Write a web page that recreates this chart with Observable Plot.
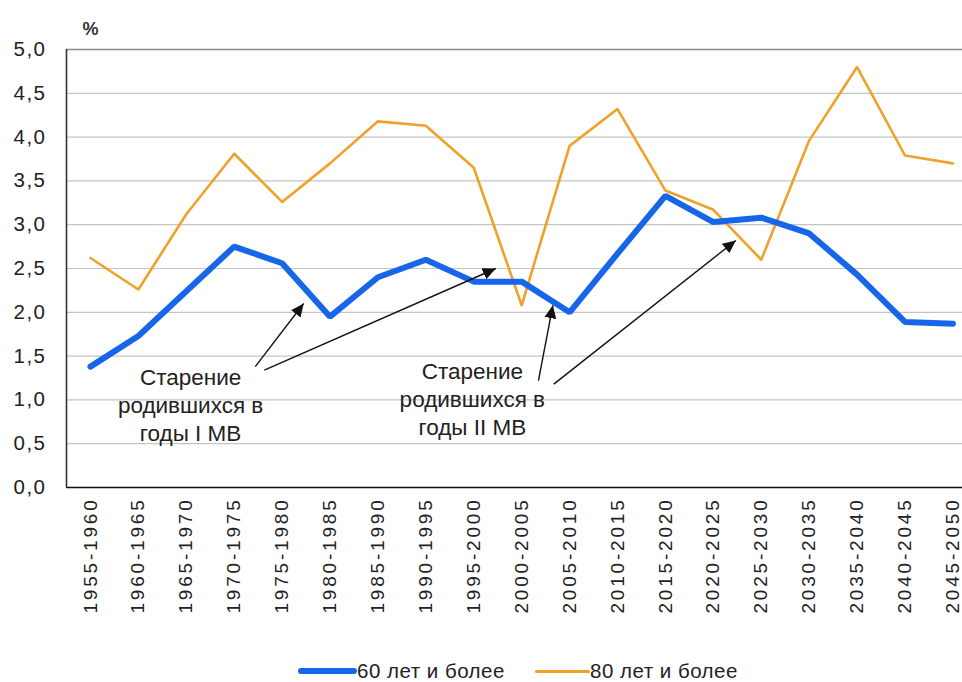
<!DOCTYPE html>
<html>
<head>
<meta charset="utf-8">
<script src="https://cdn.jsdelivr.net/npm/d3@7"></script>
<script src="https://cdn.jsdelivr.net/npm/@observablehq/plot@0.6"></script>
<style>
  body { margin: 0; background: #fff; font-family: "Liberation Sans", Arial, sans-serif; }
  #chart svg { display: block; }
  g[aria-label="x-axis tick label"] text { letter-spacing: 2.8px; }
  g[aria-label="y-axis tick label"] text { letter-spacing: 1.5px; }
  .legend { position: relative; height: 22px; font-size: 20.5px; color: #222; }
  .legend .item { position: absolute; top: 0; display: flex; align-items: center; height: 22px; }
  .legend .sw { display: inline-block; border-radius: 3px; }
</style>
</head>
<body>
<div id="chart"></div>
<div class="legend" id="legend"></div>
<script>
// ---- data ----
const periods = ["1955-1960","1960-1965","1965-1970","1970-1975","1975-1980","1980-1985","1985-1990","1990-1995","1995-2000","2000-2005","2005-2010","2010-2015","2015-2020","2020-2025","2025-2030","2030-2035","2035-2040","2040-2045","2045-2050"];
const age60 = [1.38,1.73,2.24,2.75,2.56,1.95,2.40,2.60,2.35,2.35,2.00,2.67,3.33,3.03,3.08,2.90,2.43,1.89,1.87];
const age80 = [2.62,2.26,3.12,3.81,3.26,3.70,4.18,4.13,3.65,2.08,3.90,4.32,3.39,3.17,2.60,3.96,4.80,3.79,3.70];
const seriesNames = ["60 лет и более", "80 лет и более"];
const seriesColors = ["#1766ea", "#f0a12a"];
const yTicks = [0,0.5,1,1.5,2,2.5,3,3.5,4,4.5,5];
const notes = [
  {text: "Старение\nродившихся в\nгоды I МВ", x: 2.09, y: 0.95},
  {text: "Старение\nродившихся в\nгоды II МВ", x: 7.97, y: 1.02}
];
const arrows = [
  {x1: 3.44, y1: 1.38, x2: 4.45, y2: 2.10},
  {x1: 3.63, y1: 1.34, x2: 8.46, y2: 2.50},
  {x1: 9.35, y1: 1.22, x2: 9.65, y2: 2.08},
  {x1: 9.67, y1: 1.18, x2: 13.47, y2: 2.82}
];

const rows60 = age60.map((v, i) => ({i, v}));
const rows80 = age80.map((v, i) => ({i, v}));

function filledHead(color) {
  const m = d3.create("svg:marker")
    .attr("viewBox", "-12 -6 12 12")
    .attr("markerWidth", 13)
    .attr("markerHeight", 13)
    .attr("markerUnits", "userSpaceOnUse")
    .attr("refX", 0).attr("refY", 0)
    .attr("orient", "auto");
  m.append("path").attr("d", "M-12,-5.5L0,0L-12,5.5Z").attr("fill", "#111").attr("stroke", "none");
  return m.node();
}

const chart = Plot.plot({
  width: 962,
  height: 660,
  marginLeft: 66,
  marginRight: 0,
  marginTop: 49,
  marginBottom: 173,
  style: {fontFamily: "'Liberation Sans', Arial, sans-serif", color: "#222", background: "#fff"},
  x: {type: "linear", domain: [-0.5, 18.2]},
  y: {domain: [0, 5]},
  marks: [
    Plot.ruleY(yTicks.filter(d => d > 0 && d < 5), {stroke: "#c4c4c4", strokeWidth: 1.2}),
    Plot.ruleY([5], {stroke: "#8a8a8a", strokeWidth: 1.6}),
    Plot.ruleY([0], {stroke: "#111", strokeWidth: 1.6}),
    Plot.ruleX([-0.5], {stroke: "#333", strokeWidth: 1.6}),
    Plot.axisY({ticks: yTicks, tickFormat: d => d.toFixed(1).replace(".", ","), tickSize: 0, tickPadding: 20, fontSize: 20.5, label: null}),
    Plot.axisX({ticks: d3.range(periods.length), tickFormat: i => periods[i], tickRotate: -90, tickSize: 0, tickPadding: 10, fontSize: 19, label: null}),
    Plot.text(["%"], {frameAnchor: "top-left", text: d => d, dx: 24, dy: -27, fontSize: 18, fontWeight: "bold", fill: "#333", textAnchor: "middle"}),
    Plot.line(rows80, {x: "i", y: "v", stroke: seriesColors[1], strokeWidth: 2.6}),
    Plot.line(rows60, {x: "i", y: "v", stroke: seriesColors[0], strokeWidth: 6, strokeLinejoin: "miter"}),
    Plot.link(arrows, {x1: "x1", y1: "y1", x2: "x2", y2: "y2", stroke: "#111", strokeWidth: 1.4, markerEnd: filledHead}),
    Plot.text(notes, {x: "x", y: "y", text: "text", fontSize: 22.5, lineHeight: 1.25, fill: "#222", textAnchor: "middle"})
  ]
});
document.getElementById("chart").appendChild(chart);

// legend
const legend = document.getElementById("legend");
const items = [
  {name: seriesNames[0], color: seriesColors[0], left: 298, sw: 59, th: 6},
  {name: seriesNames[1], color: seriesColors[1], left: 535, sw: 55, th: 3}
];
for (const it of items) {
  const d = document.createElement("div");
  d.className = "item";
  d.style.left = it.left + "px";
  const s = document.createElement("span");
  s.className = "sw";
  s.style.width = it.sw + "px";
  s.style.height = it.th + "px";
  s.style.background = it.color;
  const t = document.createElement("span");
  t.textContent = it.name;
  t.style.letterSpacing = "0.5px";
  d.appendChild(s); d.appendChild(t);
  legend.appendChild(d);
}
</script>
</body>
</html>
